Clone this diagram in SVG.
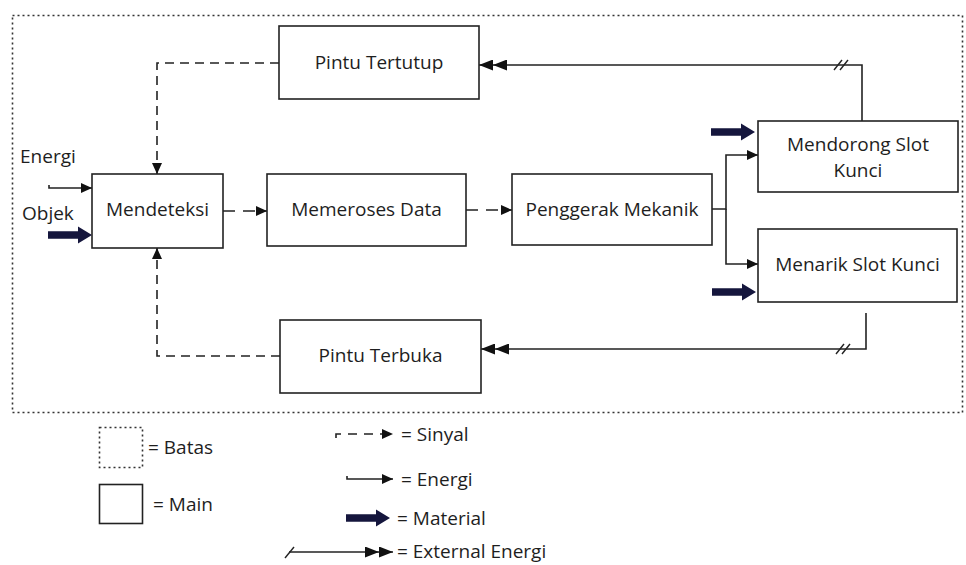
<svg xmlns="http://www.w3.org/2000/svg" width="966" height="565" viewBox="0 0 966 565">
<style>
  text { font-family: "Open Sans", "Noto Sans", "Liberation Sans", sans-serif; font-size: 19px; fill: #1e1e1e; }
  .c { text-anchor: middle; }
  .box { fill: #fff; stroke: #222; stroke-width: 1.6; }
  .bound { fill: none; stroke: #333; stroke-width: 1.6; stroke-dasharray: 2 3; }
  .ln { fill: none; stroke: #222; stroke-width: 1.6; }
  .sig { fill: none; stroke: #222; stroke-width: 1.6; stroke-dasharray: 9 6; }
  .mat { fill: #15163d; stroke: none; }
  .slash { stroke: #222; stroke-width: 1.4; }
</style>
<defs>
  <marker id="arr" viewBox="0 0 11 10" refX="11" refY="5" markerWidth="11" markerHeight="10" markerUnits="userSpaceOnUse" orient="auto">
    <path d="M0,0 L11,5 L0,10 Z" fill="#111"/>
  </marker>
  <marker id="dbl" viewBox="0 0 28 11" refX="28" refY="5.5" markerWidth="28" markerHeight="11" markerUnits="userSpaceOnUse" orient="auto">
    <path d="M0,0 L14,5.5 L0,11 Z M14,0 L28,5.5 L14,11 Z" fill="#111"/>
  </marker>
  <path id="matArrow" d="M0,-3.8 H30 V-8.5 L44,0 L30,8.5 V3.8 H0 Z"/>
</defs>

<rect class="bound" x="12.5" y="15.5" width="950" height="397"/>

<g id="connectors">
  <path class="sig" d="M279,63 H157 V174" marker-end="url(#arr)"/>
  <path class="sig" d="M280,356 H157 V248" marker-end="url(#arr)"/>
  <path class="sig" d="M223,211 H267" marker-end="url(#arr)" style="stroke-dasharray:12 8"/>
  <path class="sig" d="M466,210 H512" marker-end="url(#arr)" style="stroke-dasharray:12 8"/>
  <path class="ln" d="M49,185 V188 H92" marker-end="url(#arr)"/>
  <use href="#matArrow" class="mat" transform="translate(48,235)"/>
  <path class="ln" d="M712,209 H726 V155 H758" marker-end="url(#arr)"/>
  <path class="ln" d="M726,209 V264 H758" marker-end="url(#arr)"/>
  <use href="#matArrow" class="mat" transform="translate(711,132)"/>
  <use href="#matArrow" class="mat" transform="translate(712,292)"/>
  <path class="ln" d="M862,121 V65 H479" marker-end="url(#dbl)"/>
  <line class="slash" x1="834" y1="70" x2="842" y2="60"/>
  <line class="slash" x1="840" y1="70" x2="848" y2="60"/>
  <path class="ln" d="M866,313 V349 H481" marker-end="url(#dbl)"/>
  <line class="slash" x1="836" y1="354" x2="844" y2="344"/>
  <line class="slash" x1="842" y1="354" x2="850" y2="344"/>
</g>

<g id="pintu-tertutup">
  <rect class="box" x="279" y="26" width="200" height="73"/>
  <text class="c" x="379" y="69">Pintu Tertutup</text>
</g>
<g id="mendeteksi">
  <rect class="box" x="92" y="174" width="131" height="74"/>
  <text class="c" x="157.5" y="216">Mendeteksi</text>
</g>
<g id="memeroses-data">
  <rect class="box" x="267" y="174" width="199" height="72"/>
  <text class="c" x="366.5" y="216">Memeroses Data</text>
</g>
<g id="penggerak-mekanik">
  <rect class="box" x="512" y="174" width="200" height="71"/>
  <text class="c" x="612" y="216">Penggerak Mekanik</text>
</g>
<g id="mendorong-slot-kunci">
  <rect class="box" x="758" y="121" width="200" height="71"/>
  <text class="c" x="858" y="151">Mendorong Slot</text>
  <text class="c" x="858" y="177">Kunci</text>
</g>
<g id="menarik-slot-kunci">
  <rect class="box" x="758" y="229" width="199" height="73"/>
  <text class="c" x="857.5" y="271">Menarik Slot Kunci</text>
</g>
<g id="pintu-terbuka">
  <rect class="box" x="280" y="320" width="201" height="73"/>
  <text class="c" x="380.5" y="362">Pintu Terbuka</text>
</g>

<g id="input-labels">
  <text x="20" y="163">Energi</text>
  <text x="22" y="220">Objek</text>
</g>

<g id="legend">
  <rect class="bound" x="99.5" y="427.5" width="43" height="40"/>
  <text x="148" y="454">= Batas</text>
  <rect class="box" x="99.5" y="484.5" width="43" height="39"/>
  <text x="153" y="511">= Main</text>
  <path class="sig" d="M336,438 V434 H393" marker-end="url(#arr)" style="stroke-dasharray:9 7"/>
  <text x="401" y="441">= Sinyal</text>
  <path class="ln" d="M347,476 V479 H393" marker-end="url(#arr)"/>
  <text x="401" y="486">= Energi</text>
  <use href="#matArrow" class="mat" transform="translate(346,518)"/>
  <text x="397" y="525">= Material</text>
  <line class="slash" x1="285" y1="558" x2="294" y2="547"/>
  <path class="ln" d="M289,552 H393" marker-end="url(#dbl)"/>
  <text x="397" y="558">= External Energi</text>
</g>
</svg>
